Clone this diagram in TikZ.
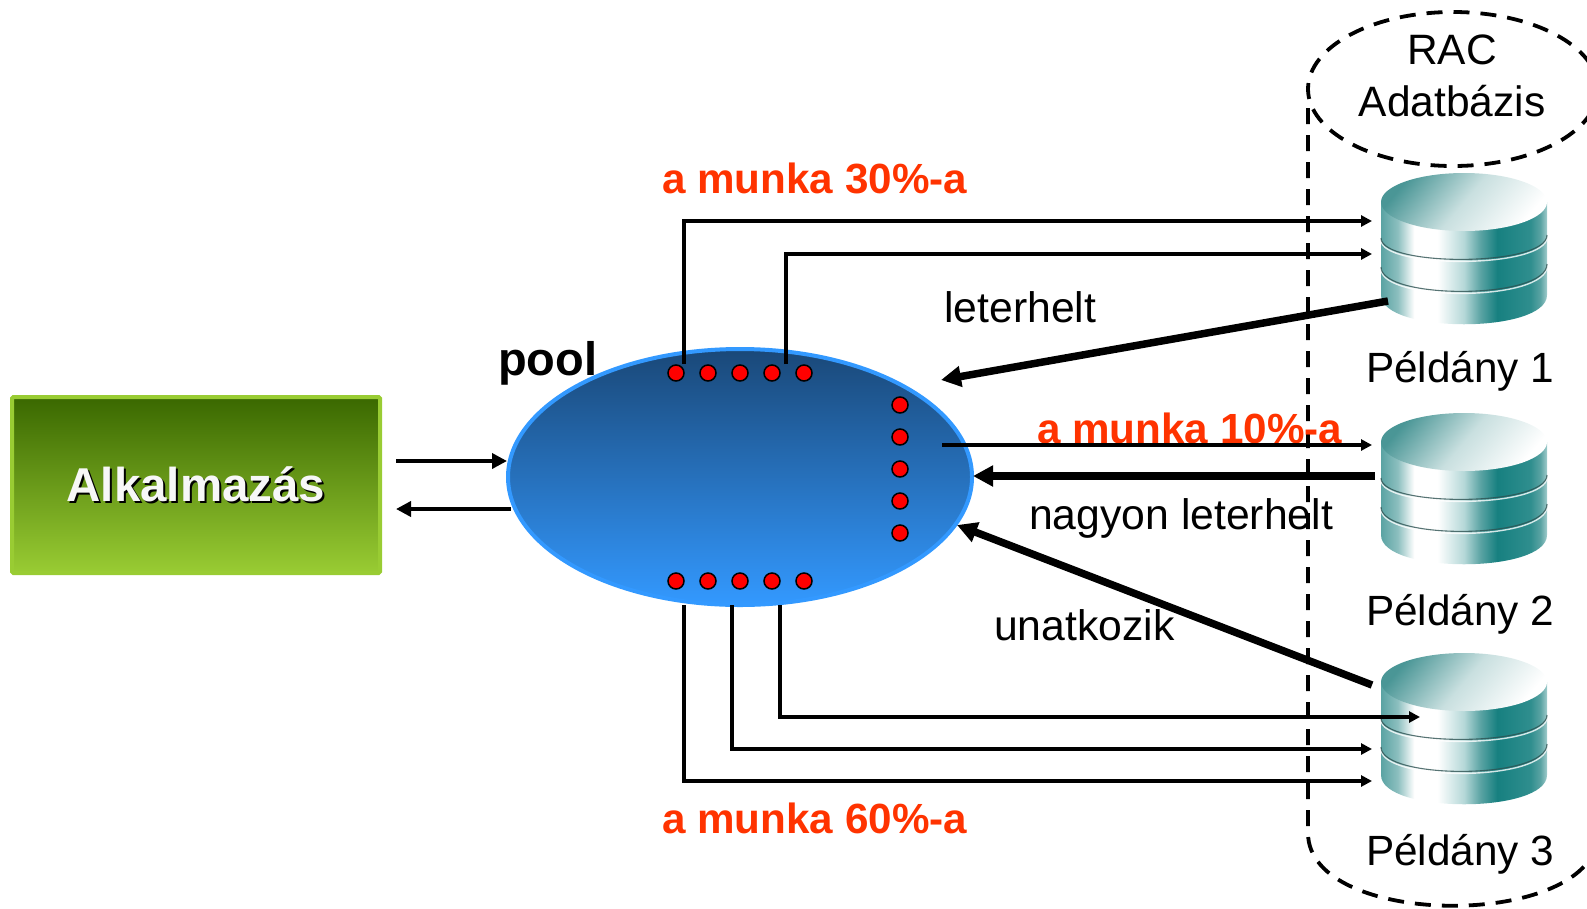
\documentclass[tikz,border=0pt]{standalone}
\usepackage{fontspec}
\setmainfont{Liberation Sans}
\usetikzlibrary{arrows.meta,shapes.geometric}
\definecolor{cylmid}{HTML}{5AA3A3}
\definecolor{cylmid2}{HTML}{2F8E8E}
\definecolor{cyllt}{HTML}{B5D8D8}
\definecolor{cyldk}{HTML}{178080}
\definecolor{cylpale}{HTML}{A0CCCC}
\definecolor{cyltop}{HTML}{4A9696}
\definecolor{orangered}{HTML}{FF3300}
\pgfdeclarehorizontalshading{cylbody}{100bp}{
 color(0bp)=(cylmid); color(25bp)=(cylmid); color(30bp)=(cylmid!70!white); color(35bp)=(white); color(42bp)=(white);
 color(50bp)=(cyllt); color(55bp)=(cylmid); color(60bp)=(cyldk); color(70bp)=(cylmid2); color(73bp)=(cylmid); color(75bp)=(cylpale); color(100bp)=(white)}
\newcommand{\fsz}[1]{\fontsize{#1}{#1}\selectfont}
\newcommand{\dbstack}[1]{%
  \begin{scope}[shift={(0,#1)}]
    \shade[shading=cylbody] (1381,29) -- (1381,122)
       .. controls (1381,161) and (1547,161) .. (1547,122) -- (1547,29) -- cycle;
    \draw[bandglow] (1381,67) .. controls (1381,96) and (1547,96) .. (1547,64);
    \draw[bandglow] (1381,96) .. controls (1381,129) and (1547,129) .. (1547,93);
    \draw[bandline] (1381,65) .. controls (1381,94) and (1547,94) .. (1547,62);
    \draw[bandline] (1381,94) .. controls (1381,127) and (1547,127) .. (1547,91);
    \shade[top color=cyltop,bottom color=white,middle color=white!70!cyltop,shading angle=50]
       (1464,29) ellipse [x radius=83pt,y radius=29pt];
  \end{scope}}
\tikzset{
  bandline/.style={draw=black!50!cylmid,opacity=.8,line width=1.1pt},
  bandglow/.style={draw=white,opacity=.8,line width=1.4pt},
  label/.style={anchor=base west,inner sep=0pt,font=\fsz{42.7}},
  redlabel/.style={anchor=base west,inner sep=0pt,font=\fsz{42.2}\bfseries,text=orangered},
  inst/.style={anchor=base west,inner sep=0pt,font=\fsz{42.3}},
  dot/.style={circle,draw=black,fill=red,line width=1.5pt,minimum size=16pt,inner sep=0pt},
  thin arrow/.style={line width=3.2pt,-{Triangle[length=11pt,width=11pt]}},
  thick arrow/.style={line width=7.5pt,-{Triangle[length=20pt,width=20pt]}},
  side arrow/.style={line width=3.6pt,-{Triangle[length=15pt,width=15pt]}},
  rac/.style={line width=3.8pt,dash pattern=on 16pt off 11pt},
}
\begin{document}
\begin{tikzpicture}[x=1pt,y=-1pt]
\useasboundingbox (0,0) rectangle (1587,908);
% RAC outline
\begin{scope}
  \clip (0,0) rectangle (1587,908);
  \draw[rac] (1453,89) ellipse [x radius=145pt,y radius=77pt];
  \draw[rac] (1308,108) -- (1308,833) .. controls (1308,930) and (1598,930) .. (1598,833);
\end{scope}
% database stacks
\dbstack{173}
\dbstack{413}
\dbstack{653}
% application
\node[rectangle,rounded corners=1.5pt,draw={rgb,255:red,153;green,204;blue,51},line width=4pt,
  top color={rgb,255:red,58;green,104;blue,0},bottom color={rgb,255:red,153;green,204;blue,51},
  minimum width=368pt,minimum height=176pt,inner sep=0pt] (app) at (196,485) {};
\node[anchor=base,inner sep=0pt,font=\fsz{47.5}\bfseries,text=black] (appshadow) at (198,503) {Alkalmazás};
\node[anchor=base,inner sep=0pt,font=\fsz{47.5}\bfseries,text=white!97!black] (apptext) at (196,501) {Alkalmazás};
% pool
\node[ellipse,draw={rgb,255:red,51;green,153;blue,255},line width=4pt,
  top color={rgb,255:red,26;green,72;blue,120},bottom color={rgb,255:red,51;green,153;blue,255},
  minimum width=464pt,minimum height=256pt,inner sep=0pt] (pool) at (740,477) {};
\node[anchor=base west,inner sep=0pt,font=\fsz{47}\bfseries] (poollabel) at (498,375) {pool};
% dots
\foreach \i/\x in {1/676,2/708,3/740,4/772,5/804}{
  \node[dot] (t\i) at (\x,373) {};
  \node[dot] (b\i) at (\x,581) {};
}
\foreach \i/\y in {1/405,2/437,3/469,4/501,5/533}{
  \node[dot] (r\i) at (900,\y) {};
}
% labels
\node[redlabel] (l30) at (662,193) {a munka 30\%-a};
\node[redlabel] (l10) at (1037,443) {a munka 10\%-a};
\node[redlabel] (l60) at (662,833) {a munka 60\%-a};
\node[label] (lbusy) at (944,322) {leterhelt};
\node[label] (lvbusy) at (1029,529) {nagyon leterhelt};
\node[label] (lidle) at (994,640) {unatkozik};
\node[inst] (p1) at (1366,382) {Példány 1};
\node[inst] (p2) at (1366,625) {Példány 2};
\node[inst] (p3) at (1366,865) {Példány 3};
\node[anchor=base,inner sep=0pt,font=\fsz{42.5}] (rac1) at (1452,64) {RAC};
\node[anchor=base,inner sep=0pt,font=\fsz{42.5}] (rac2) at (1452,116) {Adatbázis};
% connector ends
\coordinate (a1s) at (396,461); \coordinate (a1e) at (507,461);
\coordinate (a2s) at (511,509); \coordinate (a2e) at (396,509);
\coordinate (c1s) at (684,364); \coordinate (c1e) at (1372,221);
\coordinate (c2s) at (786,364); \coordinate (c2e) at (1372,254);
\coordinate (c3s) at (942,445); \coordinate (c3e) at (1372,445);
\coordinate (c4s) at (684,605); \coordinate (c4e) at (1372,781);
\coordinate (c5s) at (732,605); \coordinate (c5e) at (1372,749);
\coordinate (c6s) at (780,605); \coordinate (c6e) at (1420,717);
\coordinate (t1s) at (1388,301); \coordinate (t1e) at (941,380);
\coordinate (t2s) at (1375,476); \coordinate (t2e) at (973,476);
\coordinate (t3s) at (1372,685); \coordinate (t3e) at (957,525);
% connectors
\draw[side arrow] (a1s) -- (a1e);
\draw[side arrow] (a2s) -- (a2e);
\draw[thin arrow] (c1s) |- (c1e);
\draw[thin arrow] (c2s) |- (c2e);
\draw[thin arrow] (c3s) -- (c3e);
\draw[thin arrow] (c4s) |- (c4e);
\draw[thin arrow] (c5s) |- (c5e);
\draw[thin arrow] (c6s) |- (c6e);
\draw[thick arrow] (t1s) -- (t1e);
\draw[thick arrow] (t2s) -- (t2e);
\draw[thick arrow] (t3s) -- (t3e);
\end{tikzpicture}
\end{document}
